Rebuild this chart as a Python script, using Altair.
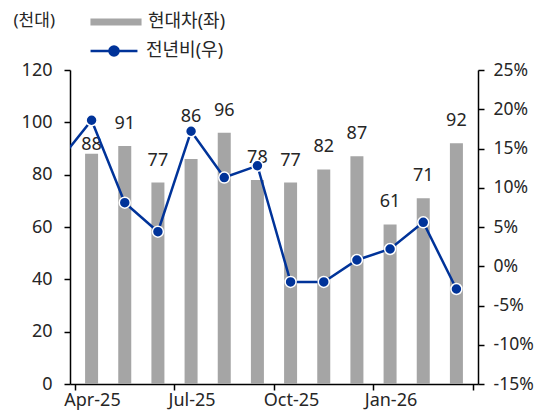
import altair as alt
import pandas as pd

months = ["Apr-25", "May-25", "Jun-25", "Jul-25", "Aug-25", "Sep-25",
          "Oct-25", "Nov-25", "Dec-25", "Jan-26", "Feb-26", "Mar-26"]
sales = [88, 91, 77, 86, 96, 78, 77, 82, 87, 61, 71, 92]
# YoY growth (%), first entry is Mar-25 (partly visible at left edge)
yoy_prev = 13.3
yoy = [18.6, 8.1, 4.4, 17.2, 11.3, 12.8, -2.0, -2.0, 0.8, 2.2, 5.6, -2.9]

bar_name = "현대차(좌)"
line_name = "전년비(우)"

df_bar = pd.DataFrame({"idx": list(range(len(months))), "month": months, "sales": sales,
                       "s1": bar_name})
df_line = pd.DataFrame({"idx": list(range(-1, len(months))),
                        "yoy": [v / 100 for v in [yoy_prev] + yoy], "s2": line_name})

FONT = "'Noto Sans', 'Noto Sans CJK KR', sans-serif"
TXT = "#262626"
GREY = "#A5A5A5"
BLUE = "#003399"

common_axis = dict(labelFont=FONT, labelColor=TXT, tickColor="black",
                   domainColor="black", tickSize=6, domainWidth=1.5, tickWidth=1.5, grid=False)

tick_vals = [-0.5, 2.5, 5.5, 8.5, 11.5]
label_expr = ""
for i, tv in enumerate(tick_vals[:-1]):
    label_expr += f"datum.value == {tv} ? '{months[i*3]}' : "
label_expr += "''"

xenc = alt.X("idx:Q", scale=alt.Scale(domain=[-0.5, 11.5], nice=False, zero=False),
             axis=alt.Axis(values=tick_vals, labelExpr=label_expr, labelOffset=17,
                           labelFlush=False, labelBound=False, title=None, labelFontSize=18,
                           labelPadding=1, **common_axis))

yleft_scale = alt.Scale(domain=[0, 120], nice=False)
yleft_axis = alt.Axis(values=[0, 20, 40, 60, 80, 100, 120], title="(천대)",
                      titleAngle=0, titleX=-57, titleY=-50, titleAlign="left",
                      titleBaseline="middle", titleFontSize=17, titleFontWeight="normal",
                      titleColor=TXT, titleFont=FONT, labelPadding=12, labelFontSize=18,
                      **common_axis)
yleft = alt.Y("sales:Q", scale=yleft_scale, axis=yleft_axis)

bar_path = "M-7.3,-1 L7.3,-1 L7.3,1 L-7.3,1 Z"
line_path = ("M-6.7,0 L6.7,0 M-1.3,0 A1.3,1.3 0 1,0 1.3,0 A1.3,1.3 0 1,0 -1.3,0 Z")

bars = alt.Chart(df_bar).mark_bar(size=13).encode(
    x=xenc, y=yleft,
    color=alt.Color("s1:N", scale=alt.Scale(domain=[bar_name], range=[GREY]),
                    legend=alt.Legend(orient="none", legendX=37, legendY=-57, title=None,
                                      symbolType=bar_path, symbolSize=49, symbolStrokeWidth=0,
                                      labelOffset=23, labelFontSize=18, labelFont=FONT,
                                      labelColor=TXT, padding=0)))

def text_layer(names, dy):
    return alt.Chart(df_bar).transform_filter(
        alt.FieldOneOfPredicate(field="month", oneOf=names)
    ).mark_text(dy=dy, fontSize=18, font=FONT, color=TXT, baseline="alphabetic").encode(
        x=xenc, y=yleft, text="sales:Q")

normal = [m for m in months if m not in ("Apr-25", "Jul-25")]
texts = [text_layer(normal, -17), text_layer(["Apr-25"], -4), text_layer(["Jul-25"], -37)]

left = alt.layer(bars, *texts)

yright = alt.Y("yoy:Q", scale=alt.Scale(domain=[-0.15, 0.25], nice=False, zero=False),
               axis=alt.Axis(orient="right", values=[-0.15, -0.1, -0.05, 0, 0.05, 0.1, 0.15, 0.2, 0.25],
                             labelExpr="round(datum.value*100) + '%'", title=None,
                             labelPadding=9, labelFontSize=17.5, **common_axis))

line = alt.Chart(df_line).mark_line(strokeWidth=2.5, clip=True).encode(
    x=xenc, y=yright,
    stroke=alt.Stroke("s2:N", scale=alt.Scale(domain=[line_name], range=[BLUE]),
                      legend=alt.Legend(orient="none", legendX=35, legendY=-28, title=None,
                                        symbolType=line_path, symbolSize=49, symbolStrokeWidth=2.5,
                                        symbolFillColor=BLUE,
                                        labelOffset=23, labelFontSize=18, labelFont=FONT,
                                        labelColor=TXT, padding=0)))
points = alt.Chart(df_line).mark_point(shape="circle", filled=True, size=120, fill=BLUE,
                                       stroke="white", strokeWidth=1.5, opacity=1,
                                       clip=True).encode(
    x=xenc, y=yright)

right = alt.layer(line, points)

chart = alt.layer(left, right).resolve_scale(y="independent", color="independent").properties(
    width=408, height=314,
    autosize=alt.AutoSizeParams(type="none"),
    padding={"left": 62, "top": 62, "right": 60, "bottom": 26},
).configure(font=FONT).configure_view(stroke=None)

chart.save("out.html", embed_options={"renderer": "svg", "actions": False})
